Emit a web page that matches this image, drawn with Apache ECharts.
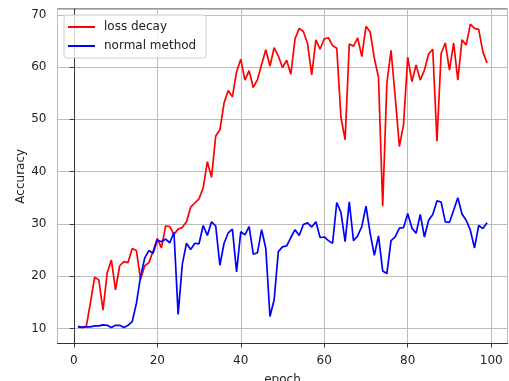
<!DOCTYPE html>
<html>
<head>
<meta charset="utf-8">
<script src="https://cdn.jsdelivr.net/npm/echarts@6/dist/echarts.min.js"></script>
<style>
  html, body { margin: 0; padding: 0; background: #fff; }
  #chart { width: 509px; height: 381px; }
</style>
</head>
<body>
<div id="chart"></div>
<script>
var seriesNames = ['loss decay', 'normal method'];

// accuracy per epoch, epochs 1..99
var lossDecay = [
    10.3, 10.2, 10.4, 15.0, 19.8, 19.3, 13.5, 20.6, 23.1, 17.4,
    22.0, 22.8, 22.6, 25.3, 24.9, 19.4, 22.0, 22.6, 24.8, 27.2,
    25.4, 29.6, 29.5, 28.0, 29.0, 29.3, 30.4, 33.2, 34.0, 34.8,
    36.9, 41.9, 38.9, 46.8, 48.0, 53.1, 55.5, 54.3, 59.1, 61.5,
    57.5, 59.3, 56.1, 57.6, 60.5, 63.3, 60.2, 63.7, 62.1, 59.9,
    61.3, 58.6, 65.4, 67.4, 66.8, 64.5, 58.5, 65.2, 63.4, 65.4,
    65.6, 64.1, 63.6, 50.4, 46.1, 64.4, 64.0, 65.6, 62.0, 67.8,
    66.7, 61.7, 58.0, 33.4, 56.9, 63.2, 54.3, 44.8, 49.0, 61.9,
    57.2, 60.4, 57.5, 59.4, 62.5, 63.4, 45.8, 62.6, 64.6, 59.4,
    64.6, 57.5, 65.2, 64.2, 68.2, 67.4, 67.2, 62.9, 60.8
];
var normalMethod = [
    10.4, 10.2, 10.3, 10.3, 10.5, 10.5, 10.7, 10.6, 10.2, 10.6,
    10.6, 10.2, 10.6, 11.3, 14.8, 19.9, 23.5, 24.9, 24.4, 26.9,
    26.6, 27.1, 26.4, 28.4, 12.7, 22.3, 26.3, 25.1, 26.3, 26.2,
    29.7, 27.8, 30.4, 29.6, 22.1, 26.3, 28.3, 29.0, 20.8, 28.5,
    27.9, 29.5, 24.2, 24.5, 28.9, 25.3, 12.3, 15.5, 24.7, 25.6,
    25.8, 27.4, 28.9, 27.8, 29.9, 30.2, 29.4, 30.4, 27.4, 27.5,
    26.8, 26.3, 34.1, 32.2, 26.6, 34.2, 26.8, 27.7, 29.5, 33.4,
    28.2, 24.0, 27.7, 21.0, 20.5, 26.8, 27.5, 29.2, 29.3, 32.0,
    29.2, 28.2, 31.8, 27.5, 30.7, 31.8, 34.4, 34.2, 30.4, 30.3,
    32.6, 35.0, 31.9, 30.7, 28.8, 25.4, 29.7, 29.1, 30.2
];

function toPairs(vals) {
    var out = [];
    for (var i = 0; i < vals.length; i++) {
        out.push([i + 1, vals[i]]);
    }
    return out;
}

var myChart = echarts.init(document.getElementById('chart'), null, { renderer: 'canvas' });
var font = 'DejaVu Sans';
var option = {
    animation: false,
    backgroundColor: '#fff',
    grid: {
        left: 57.5,
        top: 9,
        right: 1.5,
        bottom: 37.5,
        outerBoundsMode: 'none',
        containLabel: false,
        show: true,
        borderColor: '#333',
        borderWidth: 1
    },
    legend: {
        orient: 'vertical',
        left: 64,
        top: 15,
        padding: [5, 10, 5, 4],
        itemGap: 5,
        itemWidth: 27,
        itemHeight: 2,
        icon: 'rect',
        backgroundColor: 'rgba(255,255,255,0.8)',
        borderColor: '#d0d0d0',
        borderWidth: 1,
        borderRadius: 3,
        textStyle: {
            fontFamily: font,
            fontSize: 12,
            color: '#222',
            lineHeight: 14,
            padding: [0, 0, 0, 4]
        },
        data: seriesNames
    },
    xAxis: {
        type: 'value',
        min: -3.9,
        max: 103.9,
        splitNumber: 5,
        name: 'epoch',
        nameLocation: 'middle',
        nameGap: 30,
        nameMoveOverlap: false,
        nameTextStyle: { fontFamily: font, fontSize: 12, color: '#222' },
        axisLine: { show: true, lineStyle: { color: '#333', width: 1 } },
        axisTick: { show: true, length: 4, lineStyle: { color: '#333' } },
        axisLabel: {
            fontFamily: font, fontSize: 12, color: '#222', margin: 11,
            showMinLabel: false, showMaxLabel: false
        },
        splitLine: { show: true, lineStyle: { color: '#bdbdbd', width: 1 } }
    },
    yAxis: {
        type: 'value',
        min: 7.13,
        max: 71.1,
        splitNumber: 5,
        name: 'Accuracy',
        nameLocation: 'middle',
        nameGap: 31,
        nameMoveOverlap: false,
        nameTextStyle: { fontFamily: font, fontSize: 12, color: '#222' },
        axisLine: { show: true, lineStyle: { color: '#333', width: 1 } },
        axisTick: { show: true, length: 4, lineStyle: { color: '#333' } },
        axisLabel: {
            fontFamily: font, fontSize: 12, color: '#222', margin: 11,
            showMinLabel: false, showMaxLabel: false
        },
        splitLine: { show: true, lineStyle: { color: '#bdbdbd', width: 1 } }
    },
    series: [
        {
            name: seriesNames[0],
            type: 'line',
            data: toPairs(lossDecay),
            showSymbol: false,
            symbol: 'none',
            color: '#ff0000',
            lineStyle: { color: '#ff0000', width: 1.7 }
        },
        {
            name: seriesNames[1],
            type: 'line',
            data: toPairs(normalMethod),
            showSymbol: false,
            symbol: 'none',
            color: '#0000ff',
            lineStyle: { color: '#0000ff', width: 1.7 }
        }
    ]
};
myChart.setOption(option);
</script>
</body>
</html>
